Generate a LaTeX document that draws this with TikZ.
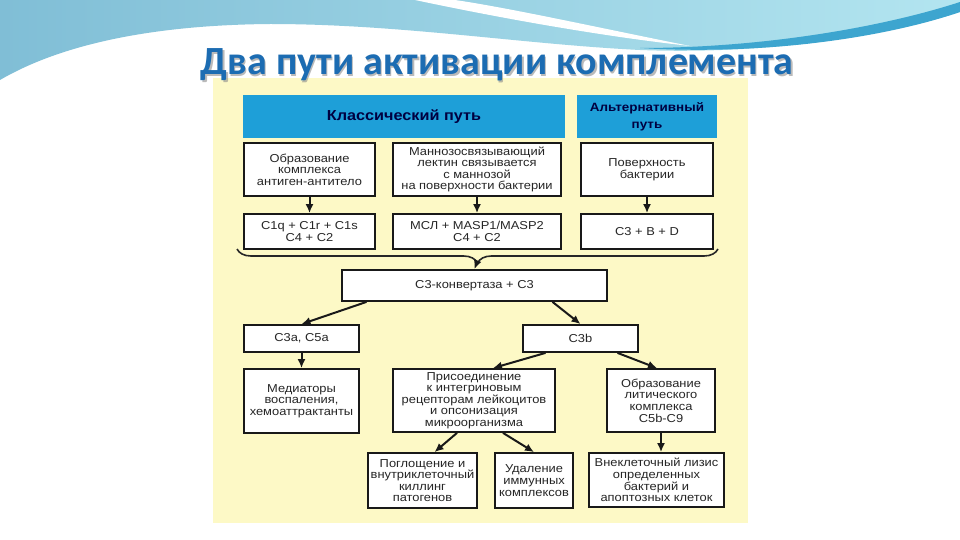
\documentclass[tikz,border=0pt]{standalone}
\usepackage{fontspec}
\setmainfont{Liberation Sans}
\newfontfamily\boxfont[FakeStretch=1.12]{Liberation Sans}
\newfontfamily\titlefont{Carlito}
\usetikzlibrary{arrows.meta}
\usetikzlibrary{decorations.pathreplacing, shadows}

\definecolor{cream}{HTML}{FDF9C6}
\definecolor{hdrblue}{HTML}{1E9FD8}
\definecolor{titleblue}{HTML}{1C6CB2}
\definecolor{skyA}{HTML}{80BED6}
\definecolor{skyB}{HTML}{B3E5F0}
\definecolor{waveedge}{HTML}{3DA5CF}

\begin{document}
\begin{tikzpicture}[x=1pt, y=-1pt,
  box/.style={draw=black!90, line width=1.8pt, fill=white, align=center, inner sep=1pt,
    font=\boxfont\fontsize{11.5}{11.6}\selectfont, text=black!85,
    drop shadow={shadow xshift=1.3pt, shadow yshift=-1.3pt, fill=black!40, opacity=0.6}},
  hdr/.style={fill=hdrblue, align=center, inner sep=0pt, text=black!75!blue},
  arr/.style={-{Latex[length=9pt, width=8pt]}, line width=2pt, black!90}]

  \useasboundingbox (0,0) rectangle (960,540);
  \fill[white] (0,0) rectangle (960,540);

  % waves on top
  \shade[left color=skyA, right color=skyB] (0,0) -- (960,0) -- (960,12)
    .. controls (890,35) and (770,55) .. (640,50)
    .. controls (520,44) and (400,24) .. (270,24)
    .. controls (150,25) and (60,45) .. (0,80) -- cycle;
  \fill[white] (415,0) .. controls (500,18) and (600,36) .. (690,46)
    .. controls (600,28) and (510,8) .. (455,0) -- cycle;
  \fill[waveedge] (960,2) .. controls (880,28) and (760,48) .. (640,48)
    .. controls (770,56) and (890,36) .. (960,12) -- cycle;

  \fill[cream] (213,78) rectangle (748,523);

  \node[font=\titlefont\bfseries\fontsize{40}{40}\selectfont, text=black!45, opacity=0.6, anchor=base]
    (tshadow) at (498.5,76.5) {Два пути активации комплемента};
  \node[font=\titlefont\bfseries\fontsize{40}{40}\selectfont, text=titleblue, anchor=base]
    (title) at (497,75) {Два пути активации комплемента};

  % headers
  \node[hdr, minimum width=322, minimum height=43, font=\boxfont\bfseries\fontsize{14.5}{16}\selectfont]
    (hcl) at (404,116.5) {Классический путь};
  \node[hdr, minimum width=140, minimum height=43, font=\boxfont\bfseries\fontsize{12}{19}\selectfont]
    (halt) at (647,116.5) {\raisebox{-2pt}{Альтернативный}\\путь};

  % first rows
  \node[box, minimum width=131, minimum height=53] (a1) at (309.5,169.5) {Образование\\комплекса\\антиген-антитело};
  \node[box, minimum width=168, minimum height=53] (b1) at (477,169.5) {Маннозосвязывающий\\лектин связывается\\с маннозой\\на поверхности бактерии};
  \node[box, minimum width=132, minimum height=53] (c1) at (647,169.5) {Поверхность\\бактерии};
  \node[box, minimum width=131, minimum height=35] (a2) at (309.5,231.5) {C1q + C1r + C1s\\C4 + C2};
  \node[box, minimum width=168, minimum height=35] (b2) at (477,231.5) {МСЛ + MASP1/MASP2\\C4 + C2};
  \node[box, minimum width=132, minimum height=35] (c2) at (647,231.5) {C3 + B + D};

  \draw[arr] (a1) -- (a2);
  \draw[arr] (b1) -- (b2);
  \draw[arr] (c1) -- (c2);

  \coordinate (bl) at (237,249);
  \coordinate (br) at (718,249);
  \coordinate (btip) at (477.5,261);
  \draw[line width=1.6pt, black!85, decorate, decoration={brace, mirror, amplitude=14pt}] (bl) -- (br);

  \node[box, minimum width=265, minimum height=31] (conv) at (474.5,285.5) {C3-конвертаза + C3};
  \draw[arr] (btip) -- (conv.north);

  \node[box, minimum width=115, minimum height=27] (c3a) at (301.5,338.5) {C3a, C5a};
  \node[box, minimum width=115, minimum height=27] (c3b) at (580.5,338.5) {C3b};
  \draw[arr] ([xshift=-108pt]conv.south) -- (c3a.north);
  \draw[arr] ([xshift=78pt]conv.south) -- (c3b.north);

  \node[box, minimum width=115, minimum height=64] (med) at (301.5,401) {Медиаторы\\воспаления,\\хемоаттрактанты};
  \node[box, minimum width=162, minimum height=63] (pris) at (474,400.5) {Присоединение\\к интегриновым\\рецепторам лейкоцитов\\и опсонизация\\микроорганизма};
  \node[box, minimum width=108, minimum height=63] (obr) at (661,400.5) {Образование\\литического\\комплекса\\C5b-C9};
  \draw[arr] (c3a) -- (med);
  \draw[arr] ([xshift=-35pt]c3b.south) -- ([xshift=19pt]pris.north);
  \draw[arr] ([xshift=37pt]c3b.south) -- ([xshift=-4pt]obr.north);

  \node[box, minimum width=109, minimum height=55] (pogl) at (422.5,480.5) {Поглощение и\\внутриклеточный\\киллинг\\патогенов};
  \node[box, minimum width=78, minimum height=55] (udal) at (534,480.5) {Удаление\\иммунных\\комплексов};
  \node[box, minimum width=135, minimum height=54] (vnek) at (656.5,480) {Внеклеточный лизис\\определенных\\бактерий и\\апоптозных клеток};
  \draw[arr] ([xshift=-17pt]pris.south) -- ([xshift=12pt]pogl.north);
  \draw[arr] ([xshift=29pt]pris.south) -- (udal.north);
  \draw[arr] (obr.south) -- (obr.south |- vnek.north);

\end{tikzpicture}
\end{document}
